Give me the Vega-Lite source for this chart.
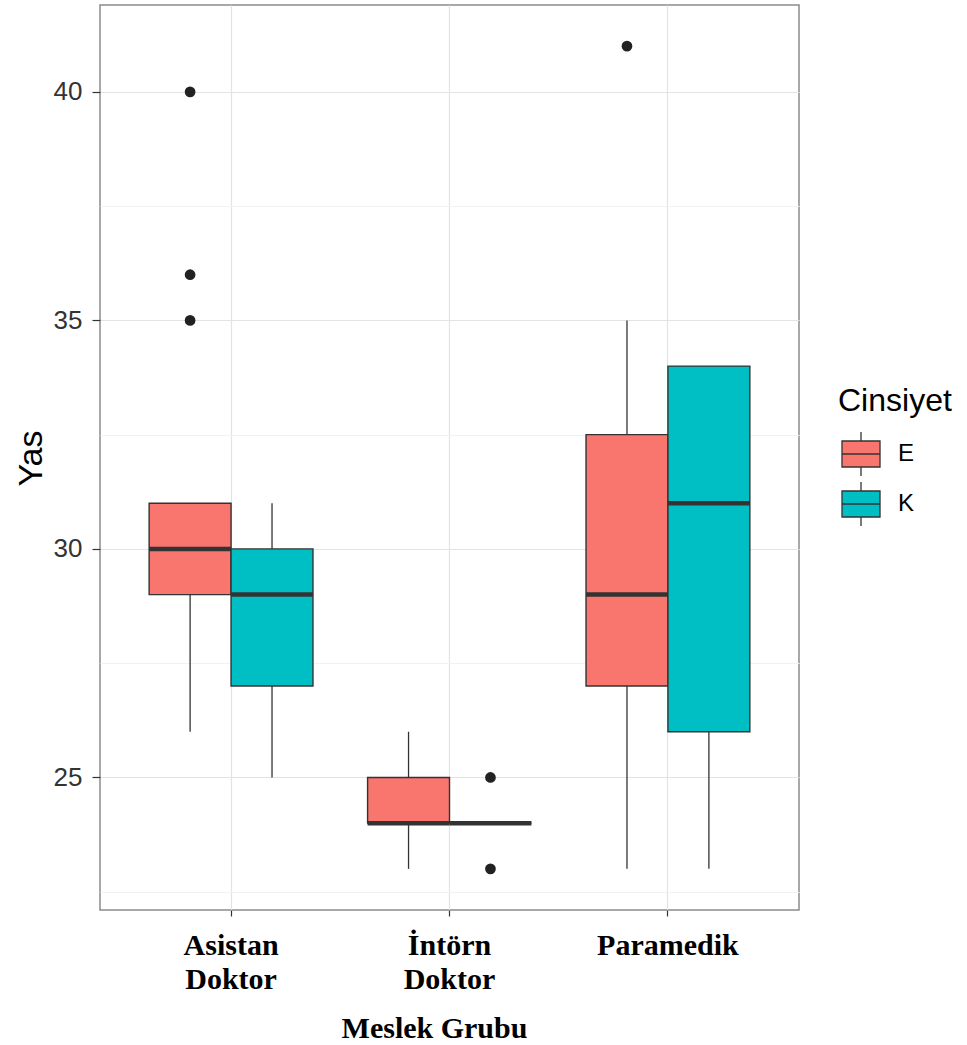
{
  "$schema": "https://vega.github.io/schema/vega-lite/v6.json",
  "autosize": {"type": "none"},
  "padding": {"left": 100, "top": 5, "right": 168, "bottom": 135},
  "width": 699,
  "height": 905,
  "background": "white",
  "config": {
    "view": {"stroke": "#8c8c8c", "strokeWidth": 1.5},
    "axis": {"domain": false}
  },
  "datasets": {
    "boxes": [
      {"group": "Asistan Doktor", "sex": "E", "lower": 26, "q1": 29, "median": 30, "q3": 31, "upper": 31},
      {"group": "Asistan Doktor", "sex": "K", "lower": 25, "q1": 27, "median": 29, "q3": 30, "upper": 31},
      {"group": "İntörn Doktor", "sex": "E", "lower": 23, "q1": 24, "median": 24, "q3": 25, "upper": 26},
      {"group": "İntörn Doktor", "sex": "K", "lower": 24, "q1": 24, "median": 24, "q3": 24, "upper": 24},
      {"group": "Paramedik", "sex": "E", "lower": 23, "q1": 27, "median": 29, "q3": 32.5, "upper": 35},
      {"group": "Paramedik", "sex": "K", "lower": 23, "q1": 26, "median": 31, "q3": 34, "upper": 34}
    ],
    "outliers": [
      {"group": "Asistan Doktor", "sex": "E", "age": 40},
      {"group": "Asistan Doktor", "sex": "E", "age": 36},
      {"group": "Asistan Doktor", "sex": "E", "age": 35},
      {"group": "İntörn Doktor", "sex": "K", "age": 25},
      {"group": "İntörn Doktor", "sex": "K", "age": 23},
      {"group": "Paramedik", "sex": "E", "age": 41}
    ]
  },
  "encoding": {
    "x": {
      "field": "group",
      "type": "nominal",
      "scale": {"type": "band", "domain": ["Asistan Doktor", "İntörn Doktor", "Paramedik"], "paddingInner": 0, "paddingOuter": 0.1},
      "axis": {
        "title": "Meslek Grubu",
        "titleFont": "Liberation Serif",
        "titleFontWeight": "bold",
        "titleFontSize": 30,
        "titleColor": "#000000",
        "titleAlign": "center",
        "titleBaseline": "alphabetic",
        "titleX": 334,
        "titleY": 127,
        "labelAngle": 0,
        "labelFont": "Liberation Serif",
        "labelFontWeight": "bold",
        "labelFontSize": 30,
        "labelColor": "#000000",
        "labelExpr": "split(datum.label, ' ')",
        "labelLineHeight": 34,
        "labelBaseline": "top",
        "labelPadding": 14,
        "labelOverlap": false,
        "labelBound": false,
        "ticks": true,
        "tickSize": 6,
        "tickColor": "#333333",
        "tickWidth": 1.2,
        "bandPosition": 0.5,
        "grid": true,
        "gridColor": "#e3e3e3",
        "gridWidth": 1.2
      }
    },
    "xOffset": {
      "field": "sex",
      "type": "nominal",
      "scale": {"domain": ["E", "K"], "paddingInner": 0, "paddingOuter": 0.3333}
    }
  },
  "layer": [
    {
      "data": {"name": "boxes"},
      "mark": {"type": "rule", "color": "#333333", "strokeWidth": 1.3},
      "encoding": {
        "y": {
          "field": "lower",
          "type": "quantitative",
          "scale": {"domain": [22.1, 41.9], "nice": false, "zero": false},
          "axis": {
            "title": "Yas",
            "titleFont": "Liberation Sans",
            "titleFontWeight": "normal",
            "titleFontSize": 34,
            "titleColor": "#000000",
            "titleAngle": -90,
            "titleAlign": "center",
            "titleBaseline": "alphabetic",
            "titleX": -59,
            "titleY": 453,
            "values": [22.5, 25, 27.5, 30, 32.5, 35, 37.5, 40],
            "labelExpr": "datum.value % 5 === 0 ? format(datum.value, 'd') : ''",
            "labelFont": "Liberation Sans",
            "labelFontSize": 26,
            "labelColor": "#333333",
            "labelPadding": 10,
            "tickSize": 8,
            "tickWidth": 1.2,
            "tickColor": {"condition": {"test": "datum.value % 5 !== 0", "value": "transparent"}, "value": "#333333"},
            "grid": true,
            "gridColor": {"condition": {"test": "datum.value % 5 !== 0", "value": "#f2f2f2"}, "value": "#e3e3e3"},
            "gridWidth": 1.2
          }
        },
        "y2": {"field": "upper"}
      }
    },
    {
      "data": {"name": "boxes"},
      "mark": {"type": "bar", "stroke": "#333333", "strokeWidth": 1.4},
      "encoding": {
        "y": {"field": "q1", "type": "quantitative"},
        "y2": {"field": "q3"},
        "fill": {
          "field": "sex",
          "type": "nominal",
          "scale": {"domain": ["E", "K"], "range": ["#F8766D", "#00BFC4"]},
          "legend": {
            "title": "Cinsiyet",
            "orient": "none",
            "legendX": 738,
            "legendY": 381,
            "padding": 0,
            "titleFont": "Liberation Sans",
            "titleFontWeight": "normal",
            "titleFontSize": 32,
            "titleColor": "#000000",
            "titleBaseline": "top",
            "titlePadding": 13,
            "labelFont": "Liberation Sans",
            "labelFontSize": 24,
            "labelColor": "#000000",
            "labelOffset": 14,
            "rowPadding": 0,
            "symbolType": "M-0.864,-0.59L0.864,-0.59L0.864,0.59L-0.864,0.59Z M-0.864,0L0.864,0 M0,-0.59L0,-1 M0,0.59L0,1",
            "symbolSize": 1936,
            "symbolStrokeColor": "#333333",
            "symbolStrokeWidth": 1.3,
            "symbolOpacity": 1
          }
        }
      }
    },
    {
      "data": {"name": "boxes"},
      "mark": {"type": "tick", "color": "#333333", "size": 82, "thickness": 4.5, "opacity": 1},
      "encoding": {
        "y": {"field": "median", "type": "quantitative"}
      }
    },
    {
      "data": {"name": "outliers"},
      "mark": {"type": "point", "filled": true, "color": "#222222", "size": 115, "opacity": 1},
      "encoding": {
        "y": {"field": "age", "type": "quantitative"}
      }
    }
  ]
}
